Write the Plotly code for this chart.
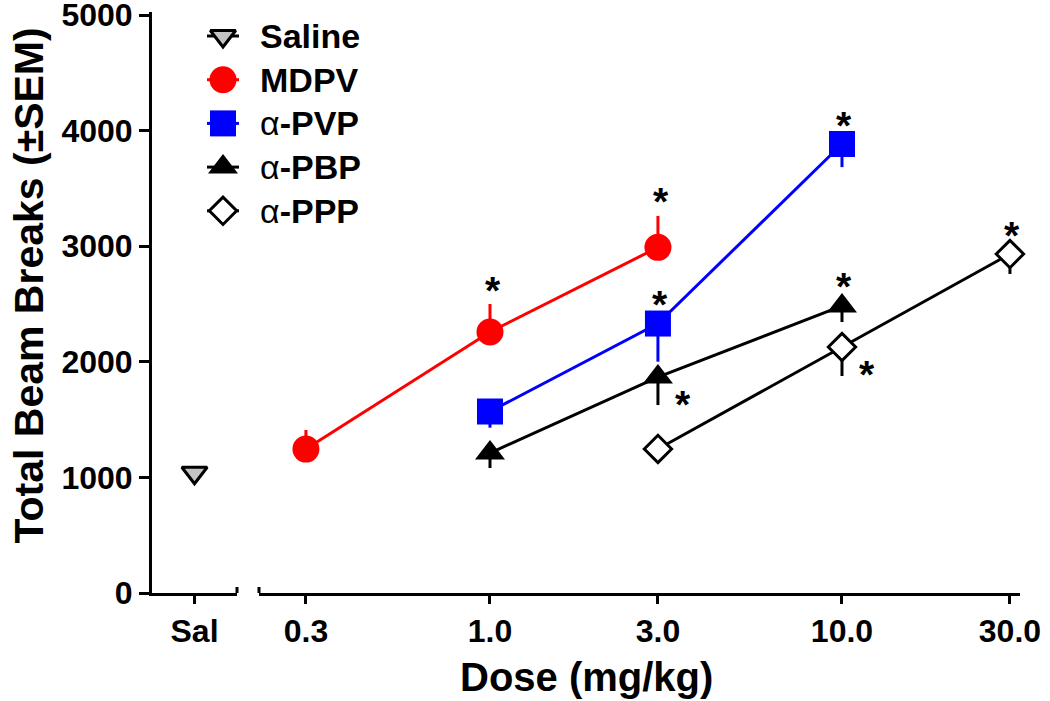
import math

import plotly.graph_objects as go

# Values (mean total beam breaks, one-sided SEM)
saline_label = ["Sal"]
saline_mean = [1040]

mdpv_dose = [0.3, 1.0, 3.0]
mdpv_mean = [1245, 2258, 2990]
mdpv_sem = [165, 242, 272]
mdpv_star = ["", "top", "top"]

pvp_dose = [1.0, 3.0, 10.0]
pvp_mean = [1570, 2331, 3884]
pvp_sem = [140, 330, 200]
pvp_star = ["", "top", "top"]

pbp_dose = [1.0, 3.0, 10.0]
pbp_mean = [1211, 1868, 2483]
pbp_sem = [130, 242, 139]
pbp_star = ["", "right", "top"]

ppp_dose = [3.0, 10.0, 30.0]
ppp_mean = [1246, 2128, 2932]
ppp_sem = [50, 251, 172]
ppp_star = ["", "right", "top"]

dose_ticks = [0.3, 1.0, 3.0, 10.0, 30.0]
dose_labels = ["0.3", "1.0", "3.0", "10.0", "30.0"]
y_ticks = [0, 1000, 2000, 3000, 4000, 5000]
y_minor_ticks = [500, 1500, 2500, 3500, 4500]

legend_names = ["Saline", "MDPV", "<span style='font-weight:normal'>α</span>-PVP",
                "<span style='font-weight:normal'>α</span>-PBP",
                "<span style='font-weight:normal'>α</span>-PPP"]

FONT = "Liberation Sans, Arial, sans-serif"
RED = "#ff0000"
BLUE = "#0000ff"
BLACK = "#000000"
GREY = "#c4c4c4"

# marker styles: symbol, size, fill, outline color, outline width
styles = [
    dict(symbol="triangle-down", size=22, color=GREY, line=dict(color=BLACK, width=3)),
    dict(symbol="circle", size=27, color=RED, line=dict(width=0)),
    dict(symbol="square", size=26, color=BLUE, line=dict(width=0)),
    dict(symbol="triangle-up", size=26, color=BLACK, line=dict(width=0)),
    dict(symbol="diamond", size=21, color="white", line=dict(color=BLACK, width=3)),
]
line_colors = [BLACK, RED, BLUE, BLACK, BLACK]

fig = go.Figure()

# saline point on its own short axis
fig.add_trace(go.Scatter(
    x=saline_label, y=saline_mean, mode="markers", marker=styles[0],
    xaxis="x", yaxis="y", showlegend=False, cliponaxis=False))

series = [
    (mdpv_dose, mdpv_mean, mdpv_sem, mdpv_star, 1, True),
    (pvp_dose, pvp_mean, pvp_sem, pvp_star, 2, False),
    (pbp_dose, pbp_mean, pbp_sem, pbp_star, 3, False),
    (ppp_dose, ppp_mean, ppp_sem, ppp_star, 4, False),
]

annotations = []
for dose, mean, sem, stars, k, err_up in series:
    zeros = [0] * len(sem)
    fig.add_trace(go.Scatter(
        x=dose, y=mean, mode="lines+markers",
        line=dict(color=line_colors[k], width=3),
        marker=styles[k],
        error_y=dict(type="data", symmetric=False,
                     array=sem if err_up else zeros,
                     arrayminus=zeros if err_up else sem,
                     color=line_colors[k], thickness=3, width=0),
        xaxis="x2", yaxis="y", showlegend=False, cliponaxis=False))
    for d, m, s, st in zip(dose, mean, sem, stars):
        if not st:
            continue
        if st == "top":
            if err_up:
                yv, ys, xs = m + s, 14, 3
            else:
                yv, ys, xs = m, 19, 2
        else:
            yv, ys, xs = m, -27, 25
        annotations.append(dict(
            x=math.log10(d), y=yv, xref="x2", yref="y", text="*", showarrow=False,
            xshift=xs, yshift=ys, xanchor="center", yanchor="middle",
            font=dict(family=FONT, size=39, color=BLACK, weight="bold")))

# body margin is removed in the page (see post_script), so the figure fills the window;
# the y range runs a little past 5000 so that its end tick is kept
FIG_W, FIG_H = 1050, 701
M_L, M_R, M_T, M_B = 152, 30, 12, 108
Y_TOP = 5026
PLOT_W = FIG_W - M_L - M_R

# legend drawn on a hidden overlay axis that spans the plot area in pixels
LEG_X, LEG_TOP, LEG_STEP = 223, 36, 43.7
for i, name in enumerate(legend_names):
    ly = LEG_TOP + i * LEG_STEP
    fig.add_trace(go.Scatter(
        x=[LEG_X - 16, LEG_X + 16], y=[ly, ly], mode="lines",
        line=dict(color=line_colors[i], width=3),
        xaxis="x3", yaxis="y3", showlegend=False, hoverinfo="skip"))
    fig.add_trace(go.Scatter(
        x=[LEG_X], y=[ly], mode="markers", marker=styles[i],
        xaxis="x3", yaxis="y3", showlegend=False, hoverinfo="skip"))
    annotations.append(dict(
        x=LEG_X + 35, y=ly, xref="x3", yref="y3", text=name, showarrow=False,
        xanchor="left", yanchor="middle",
        font=dict(family=FONT, size=34, color=BLACK, weight="bold")))

# axis titles
annotations.append(dict(
    x=0.5, y=0, xref="paper", yref="paper", yshift=-84, text="Dose (mg/kg)",
    showarrow=False, xanchor="center", yanchor="middle",
    font=dict(family=FONT, size=40, color=BLACK, weight="bold")))
annotations.append(dict(
    x=0, y=0.5, xref="paper", yref="paper", xshift=-124, yshift=17,
    text="Total Beam Breaks (±SEM)", textangle=-90,
    showarrow=False, xanchor="center", yanchor="middle",
    font=dict(family=FONT, size=41, color=BLACK, weight="bold")))

tickfont = dict(family=FONT, size=32, color=BLACK, weight="bold")
axis_common = dict(showline=True, linecolor=BLACK, linewidth=3, ticks="outside",
                   tickcolor=BLACK, tickwidth=3, showgrid=False, zeroline=False,
                   tickfont=tickfont, ticklabeloverflow="allow", automargin=False)

fig.update_layout(
    width=FIG_W, height=FIG_H,
    margin=dict(l=M_L, r=M_R, t=M_T, b=M_B, autoexpand=False),
    plot_bgcolor="rgba(0,0,0,0)", paper_bgcolor="white",
    xaxis=dict(domain=[0, 85 / PLOT_W], type="category", range=[-0.5, 0.5],
               anchor="y", ticklen=8, **axis_common),
    xaxis2=dict(domain=[107 / PLOT_W, 1], type="log",
                range=[math.log10(0.2207), math.log10(32.04)],
                tickmode="array", tickvals=dose_ticks, ticktext=dose_labels,
                anchor="y", ticklen=8, **axis_common),
    yaxis=dict(range=[0, Y_TOP], tickmode="array", tickvals=y_ticks,
               anchor="x", ticklen=10, **axis_common),
    # second y axis on top of the first, only for the short minor ticks
    yaxis4=dict(range=[0, Y_TOP], overlaying="y", anchor="x", side="left",
                tickmode="array", tickvals=y_minor_ticks, showticklabels=False,
                ticks="outside", ticklen=6, tickwidth=3, tickcolor=BLACK,
                showline=False, showgrid=False, zeroline=False, automargin=False),
    xaxis3=dict(domain=[0, 1], range=[152, 1020], visible=False, anchor="y3",
                automargin=False),
    yaxis3=dict(domain=[0, 1], range=[593, 12], visible=False, anchor="x3",
                automargin=False),
    annotations=annotations,
    shapes=[
        dict(type="line", xref="x domain", yref="y", x0=1, x1=1, y0=-6, y1=6,
             ysizemode="pixel", yanchor=0, line=dict(color=BLACK, width=3)),
        dict(type="line", xref="x2 domain", yref="y", x0=0, x1=0, y0=-6, y1=6,
             ysizemode="pixel", yanchor=0, line=dict(color=BLACK, width=3)),
    ],
)

fig.write_html("out.html", config={"displayModeBar": False},
               post_script="document.body.style.margin='0';"
                           "document.body.style.overflow='hidden';")
